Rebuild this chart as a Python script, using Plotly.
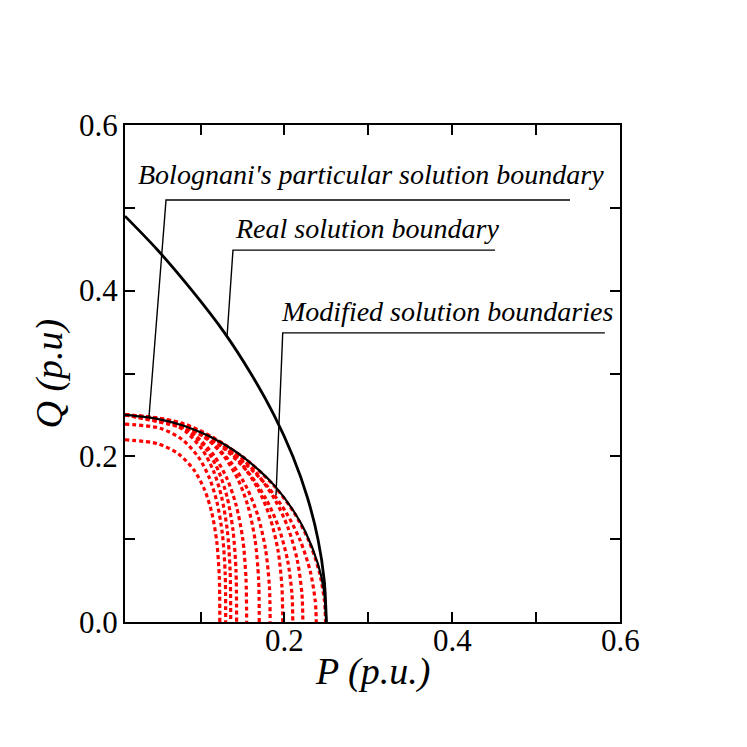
import plotly.graph_objects as go

# ---------------- data ----------------
# Real solution boundary
P_REAL = [0.010, 0.048, 0.090, 0.128, 0.160, 0.1875, 0.210, 0.2275, 0.240, 0.2475, 0.250]
Q_REAL = [0.490, 0.450, 0.400, 0.350, 0.300, 0.250, 0.200, 0.150, 0.100, 0.050, 0.000]

# Bolognani's particular solution boundary
P_BOL = [0.010, 0.050, 0.080, 0.110, 0.140, 0.170, 0.190, 0.210, 0.225, 0.240, 0.247, 0.250]
Q_BOL = [0.250, 0.245, 0.237, 0.2245, 0.207, 0.183, 0.1625, 0.1355, 0.109, 0.070, 0.0387, 0.000]

# Modified solution boundaries (red dotted family)
MOD_P1 = [0.010, 0.0492, 0.0738, 0.0923, 0.1046, 0.1132, 0.1193, 0.1224, 0.123]
MOD_Q1 = [0.220, 0.2152, 0.2029, 0.1833, 0.1602, 0.1331, 0.0976, 0.0543, 0.0]
MOD_P2 = [0.010, 0.0520, 0.0780, 0.0975, 0.1105, 0.1196, 0.1261, 0.1294, 0.130]
MOD_Q2 = [0.239, 0.2338, 0.2204, 0.1991, 0.1740, 0.1446, 0.1060, 0.0589, 0.0]
MOD_P3 = [0.010, 0.0544, 0.0816, 0.1020, 0.1156, 0.1251, 0.1319, 0.1353, 0.136]
MOD_Q3 = [0.250, 0.2446, 0.2305, 0.2083, 0.1820, 0.1512, 0.1109, 0.0617, 0.0]
MOD_P4 = [0.010, 0.0572, 0.0858, 0.1073, 0.1216, 0.1316, 0.1387, 0.1423, 0.143]
MOD_Q4 = [0.250, 0.2446, 0.2305, 0.2083, 0.1820, 0.1512, 0.1109, 0.0617, 0.0]
MOD_P5 = [0.010, 0.0620, 0.0930, 0.1163, 0.1318, 0.1426, 0.1504, 0.1542, 0.155]
MOD_Q5 = [0.250, 0.2425, 0.2257, 0.2007, 0.1725, 0.1405, 0.1000, 0.0525, 0.0]
MOD_P6 = [0.010, 0.0680, 0.1020, 0.1275, 0.1445, 0.1564, 0.1649, 0.1692, 0.170]
MOD_Q6 = [0.250, 0.2425, 0.2257, 0.2007, 0.1725, 0.1405, 0.1000, 0.0525, 0.0]
MOD_P7 = [0.010, 0.0732, 0.1098, 0.1373, 0.1556, 0.1684, 0.1775, 0.1821, 0.183]
MOD_Q7 = [0.250, 0.2396, 0.2194, 0.1914, 0.1612, 0.1282, 0.0879, 0.0432, 0.0]
MOD_P8 = [0.010, 0.0792, 0.1188, 0.1485, 0.1683, 0.1822, 0.1921, 0.1970, 0.198]
MOD_Q8 = [0.250, 0.2396, 0.2194, 0.1914, 0.1612, 0.1282, 0.0879, 0.0432, 0.0]
MOD_P9 = [0.010, 0.0840, 0.1260, 0.1575, 0.1785, 0.1932, 0.2037, 0.2090, 0.210]
MOD_Q9 = [0.250, 0.2353, 0.2111, 0.1798, 0.1478, 0.1141, 0.0749, 0.0340, 0.0]
MOD_P10 = [0.010, 0.0888, 0.1332, 0.1665, 0.1887, 0.2042, 0.2153, 0.2209, 0.222]
MOD_Q10 = [0.250, 0.2353, 0.2111, 0.1798, 0.1478, 0.1141, 0.0749, 0.0340, 0.0]
MOD_P11 = [0.010, 0.0952, 0.1428, 0.1785, 0.2023, 0.2190, 0.2309, 0.2368, 0.238]
MOD_Q11 = [0.250, 0.2291, 0.2000, 0.1654, 0.1317, 0.0980, 0.0608, 0.0250, 0.0]
MOD_P12 = [0.010, 0.0996, 0.1494, 0.1868, 0.2117, 0.2291, 0.2415, 0.2478, 0.249]
MOD_Q12 = [0.250, 0.2291, 0.2000, 0.1654, 0.1317, 0.0980, 0.0608, 0.0250, 0.0]

MOD_P = [MOD_P1, MOD_P2, MOD_P3, MOD_P4, MOD_P5, MOD_P6,
         MOD_P7, MOD_P8, MOD_P9, MOD_P10, MOD_P11, MOD_P12]
MOD_Q = [MOD_Q1, MOD_Q2, MOD_Q3, MOD_Q4, MOD_Q5, MOD_Q6,
         MOD_Q7, MOD_Q8, MOD_Q9, MOD_Q10, MOD_Q11, MOD_Q12]

X_TICKS = [0.1, 0.2, 0.3, 0.4, 0.5, 0.6]
X_LABELS = ["0.2", "0.4", "0.6"]
Y_TICKS = [0.0, 0.1, 0.2, 0.3, 0.4, 0.5, 0.6]
Y_LABELS = ["0.0", "0.2", "0.4", "0.6"]

LABEL_BOL = "Bolognani's particular solution boundary"
LABEL_REAL = "Real solution boundary"
LABEL_MOD = "Modified solution boundaries"
X_TITLE = "P (p.u.)"
Y_TITLE = "Q (p.u)"

FONT = "Liberation Serif, Times New Roman, serif"

# ---------------- figure ----------------
fig = go.Figure()

for px_, qy_ in zip(MOD_P, MOD_Q):
    fig.add_trace(go.Scatter(
        x=px_, y=qy_, mode="lines",
        line=dict(color="#ff0000", width=3.2, dash="4px,3px",
                  shape="spline", smoothing=0.8),
        showlegend=False, hoverinfo="skip"))

fig.add_trace(go.Scatter(
    x=P_BOL, y=Q_BOL, mode="lines",
    line=dict(color="black", width=2.2, shape="spline", smoothing=0.8),
    showlegend=False, hoverinfo="skip"))

fig.add_trace(go.Scatter(
    x=P_REAL, y=Q_REAL, mode="lines",
    line=dict(color="black", width=2.8, shape="spline", smoothing=0.8),
    showlegend=False, hoverinfo="skip"))

# leader lines (data coordinates): [bottom point, corner, right end]
leaders = [
    ((0.0386, 0.2474), (0.0589, 0.5095), 0.5404),
    ((0.1316, 0.3440), (0.1387, 0.4490), 0.4510),
    ((0.1900, 0.1533), (0.1980, 0.3490), 0.5820),
]
for (bx, by), (cx, cy), ex in leaders:
    fig.add_shape(type="path",
                  path=f"M {bx} {by} L {cx} {cy} L {ex} {cy}",
                  xref="x", yref="y",
                  line=dict(color="black", width=1.4))

texts = [
    (LABEL_BOL, 0.0231, 0.540),
    (LABEL_REAL, 0.1387, 0.475),
    (LABEL_MOD, 0.1940, 0.375),
]
for t, x, y in texts:
    fig.add_annotation(text=f"<i>{t}</i>", x=x, y=y, xref="x", yref="y",
                       xanchor="left", yanchor="middle", showarrow=False,
                       font=dict(family=FONT, size=28, color="black"))

# tick labels placed close to the axes (as in the reference)
for lab in X_LABELS:
    fig.add_annotation(text=lab, x=float(lab), y=0, xref="x", yref="paper",
                       xanchor="center", yanchor="middle", yshift=-18,
                       showarrow=False,
                       font=dict(family=FONT, size=31, color="black"))
for lab in Y_LABELS:
    fig.add_annotation(text=lab, x=0, y=float(lab), xref="paper", yref="y",
                       xanchor="right", yanchor="middle", xshift=-5,
                       showarrow=False,
                       font=dict(family=FONT, size=31, color="black"))

# axis titles
fig.add_annotation(text=f"<i>{X_TITLE}</i>", x=0.5, y=0, xref="paper", yref="paper",
                   xanchor="center", yanchor="middle", yshift=-49, showarrow=False,
                   font=dict(family=FONT, size=38, color="black"))
fig.add_annotation(text=f"<i>{Y_TITLE}</i>", x=0, y=0.5, xref="paper", yref="paper",
                   xanchor="center", yanchor="middle", xshift=-76, textangle=-90,
                   showarrow=False,
                   font=dict(family=FONT, size=38, color="black"))

axis_common = dict(
    showline=True, linecolor="black", linewidth=2,
    ticks="inside", ticklen=10, tickwidth=1.5, tickcolor="black",
    mirror="ticks", showgrid=False, zeroline=False,
    showticklabels=False, layer="above traces",
)

fig.update_xaxes(range=[0.01, 0.6], tickmode="array", tickvals=X_TICKS, **axis_common)
fig.update_yaxes(range=[0.0, 0.6], tickmode="array", tickvals=Y_TICKS, **axis_common)

fig.update_layout(
    width=747, height=747,
    margin=dict(l=117, r=135, t=117, b=133),
    paper_bgcolor="white", plot_bgcolor="white",
    showlegend=False,
)

fig.write_html("out.html")
